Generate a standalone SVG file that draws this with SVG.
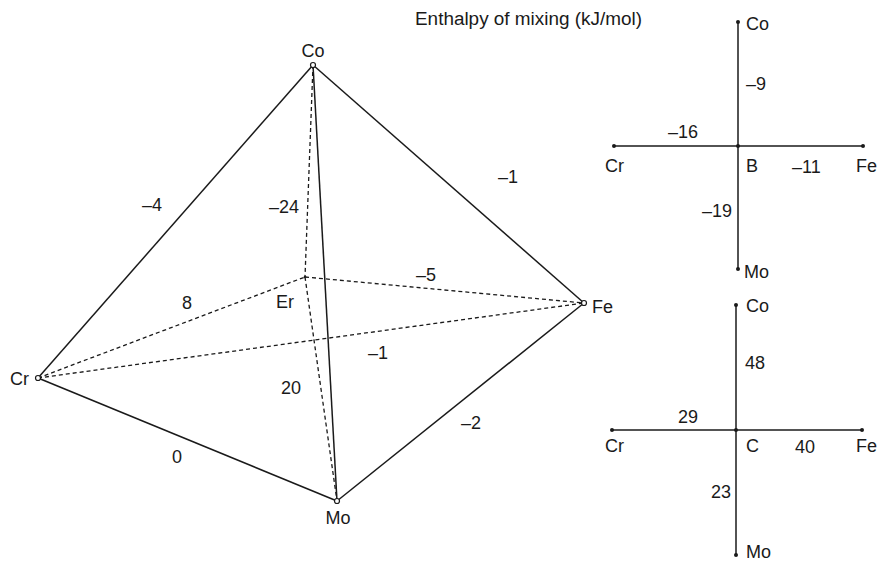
<svg xmlns="http://www.w3.org/2000/svg" width="877" height="561" viewBox="0 0 877 561">
<style>
text{font-family:"Liberation Sans",Arial,sans-serif;font-size:18px;fill:#1a1a1a}
.s{stroke:#1a1a1a;stroke-width:1.5;fill:none}
.d{stroke:#1a1a1a;stroke-width:1.3;fill:none;stroke-dasharray:4 3}
.v{fill:#fff;stroke:#1a1a1a;stroke-width:1.2}
.p{fill:#1a1a1a}
.m{text-anchor:middle}
</style>
<rect width="877" height="561" fill="#fff"/>
<g id="connectors">
<line class="d" x1="38" y1="378" x2="305" y2="277"/>
<line class="d" x1="305" y1="277" x2="584" y2="303"/>
<line class="d" x1="38" y1="378" x2="584" y2="303"/>
<line class="d" x1="313" y1="65" x2="305" y2="277"/>
<line class="d" x1="305" y1="277" x2="337" y2="501"/>
<line class="s" x1="313" y1="65" x2="38" y2="378"/>
<line class="s" x1="313" y1="65" x2="584" y2="303"/>
<line class="s" x1="313" y1="65" x2="337" y2="501"/>
<line class="s" x1="38" y1="378" x2="337" y2="501"/>
<line class="s" x1="584" y1="303" x2="337" y2="501"/>
<line class="s" x1="738" y1="22" x2="738" y2="269"/>
<line class="s" x1="614" y1="146" x2="863" y2="146"/>
<line class="s" x1="736" y1="305" x2="736" y2="555"/>
<line class="s" x1="612" y1="430" x2="862" y2="430"/>
</g>
<g id="edge-labels">
<text class="m" x="152" y="211">–4</text>
<text class="m" x="508" y="183">–1</text>
<text class="m" x="284" y="213">–24</text>
<text class="m" x="426" y="281">–5</text>
<text class="m" x="187" y="309">8</text>
<text class="m" x="378" y="359">–1</text>
<text class="m" x="291" y="394">20</text>
<text class="m" x="471" y="429">–2</text>
<text class="m" x="177" y="463">0</text>
</g>
<g id="node-Co"><circle class="v" cx="313" cy="65" r="2.5"/><text class="m" x="313" y="57">Co</text></g>
<g id="node-Cr"><circle class="v" cx="38" cy="378" r="2.5"/><text x="10" y="385">Cr</text></g>
<g id="node-Mo"><circle class="v" cx="337" cy="501" r="2.5"/><text class="m" x="338" y="524">Mo</text></g>
<g id="node-Fe"><circle class="v" cx="584" cy="303" r="2.5"/><text x="592" y="313">Fe</text></g>
<g id="node-Er"><circle class="p" cx="305" cy="277" r="1.3"/><text x="276" y="308">Er</text></g>
<text id="title" x="415" y="25" textLength="227" lengthAdjust="spacingAndGlyphs">Enthalpy of mixing (kJ/mol)</text>
<g id="node-B">
<circle class="p" cx="738" cy="22" r="2"/><circle class="p" cx="738" cy="269" r="2"/>
<circle class="p" cx="614" cy="146" r="2"/><circle class="p" cx="863" cy="146" r="2"/><circle class="p" cx="738" cy="146" r="2"/>
<text x="746" y="30">Co</text>
<text x="746" y="90">–9</text>
<text x="668" y="138">–16</text>
<text x="605" y="172">Cr</text>
<text x="746" y="172">B</text>
<text x="792" y="173">–11</text>
<text x="856" y="172">Fe</text>
<text x="702" y="217">–19</text>
<text x="744" y="278">Mo</text>
</g>
<g id="node-C">
<circle class="p" cx="736" cy="305" r="2"/><circle class="p" cx="736" cy="555" r="2"/>
<circle class="p" cx="612" cy="430" r="2"/><circle class="p" cx="862" cy="430" r="2"/><circle class="p" cx="736" cy="430" r="2"/>
<text x="746" y="312">Co</text>
<text x="745" y="369">48</text>
<text x="678" y="423">29</text>
<text x="605" y="452">Cr</text>
<text x="746" y="452">C</text>
<text x="795" y="453">40</text>
<text x="856" y="452">Fe</text>
<text x="711" y="498">23</text>
<text x="746" y="558">Mo</text>
</g>
</svg>
